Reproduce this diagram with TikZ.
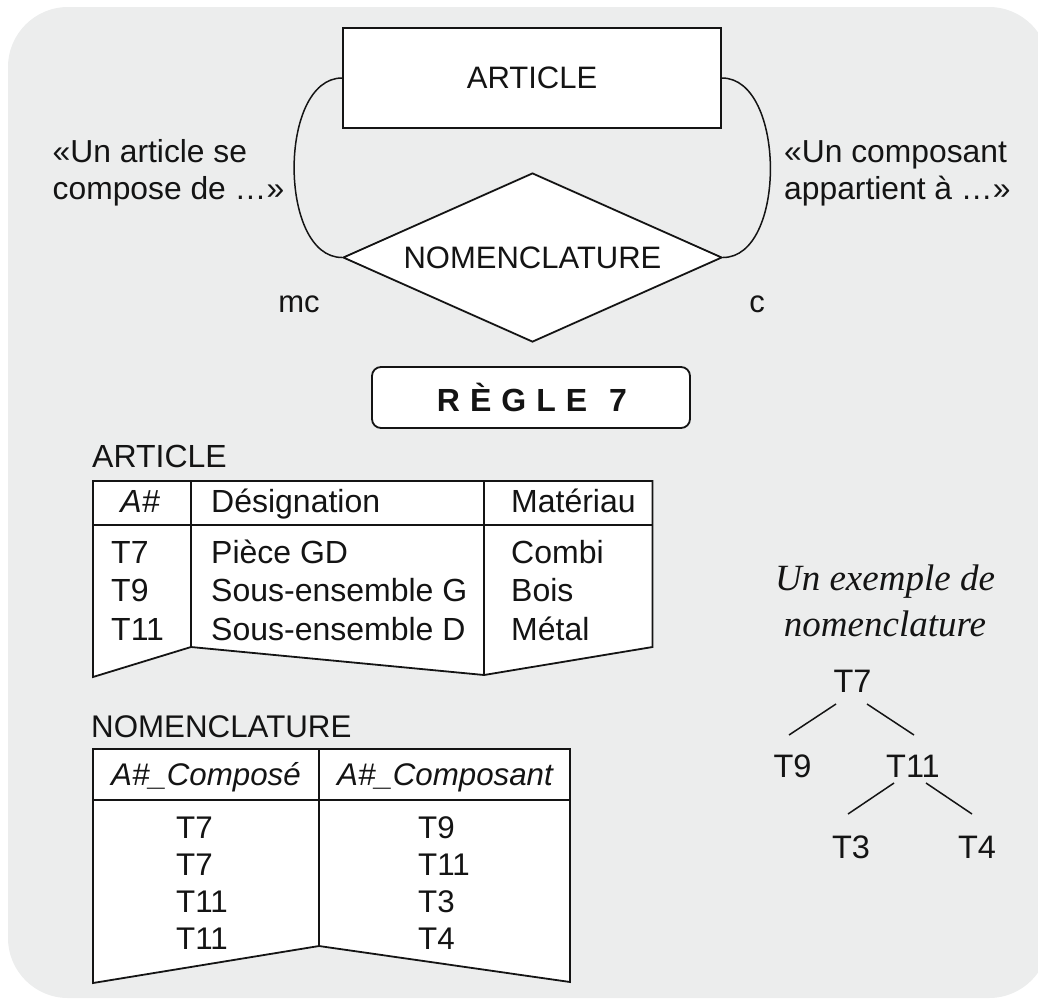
\documentclass[tikz,border=0pt]{standalone}
\usepackage{fontspec}
\setmainfont{Liberation Sans}
\newfontfamily\tnrfont{Liberation Serif}
\usetikzlibrary{shapes.geometric}
\definecolor{bg}{RGB}{236,237,237}
\definecolor{ink}{RGB}{20,20,20}
\tikzset{
  ftop/.style={inner sep=0pt, text=ink, font=\fontsize{31}{37}\selectfont},
  fside/.style={inner sep=0pt, text=ink, font=\fontsize{31.8}{37}\selectfont},
  fone/.style={inner sep=0pt, text=ink, font=\fontsize{32}{37}\selectfont},
  ftwo/.style={inner sep=0pt, text=ink, font=\fontsize{31.3}{37}\selectfont},
  ftree/.style={inner sep=0pt, text=ink, font=\fontsize{32.5}{38}\selectfont},
  border/.style={draw=ink, line width=1.8pt},
  thin/.style={draw=ink, line width=1.5pt},
}
\begin{document}
\begin{tikzpicture}[x=1pt,y=-1pt,line join=miter]
\useasboundingbox (0,0) rectangle (1038,999);
\begin{scope}
  \clip (0,0) rectangle (1038,999);
  \fill[bg, rounded corners=60pt] (8,7) rectangle (1049,998);
\end{scope}

% --- ER diagram ---
\node[ftop, border, fill=white, minimum width=378pt, minimum height=100pt] (art) at (532,78) {ARTICLE};
\node[ftop, diamond, border, fill=white, aspect=2.24, minimum width=379pt, minimum height=169pt] (nom) at (532.5,257.5) {NOMENCLATURE};
\draw[thin] (art.west) .. controls +(-64,0) and +(-64,0) .. (nom.west);
\draw[thin] (art.east) .. controls +(64,0) and +(64,0) .. (nom.east);

\node[fside, anchor=base west] (la1) at (52.5,162.5) {«Un article se};
\node[fside, anchor=base west] (la2) at (52.5,199.5) {compose de …»};
\node[fside, anchor=base west] (ra1) at (784,162.5) {«Un composant};
\node[fside, anchor=base west] (ra2) at (784,199.5) {appartient à …»};
\node[ftop, anchor=base] (mc) at (299,312) {mc};
\node[ftop, anchor=base] (cc) at (757,312) {c};

% --- rule box ---
\node[border, fill=white, rounded corners=9pt, minimum width=318pt, minimum height=61pt, inner sep=0pt] (regle) at (531,397.5) {};
\node[inner sep=0pt, text=ink, anchor=base, font=\bfseries\fontsize{32}{38}\selectfont] (regtxt) at (532,411)
  {R\hspace{10pt}È\hspace{10pt}G\hspace{10pt}L\hspace{10pt}E\hspace{22pt}7};

% --- ARTICLE table ---
\node[fone, anchor=base west] (lab1) at (92,467) {ARTICLE};
\draw[border, fill=white] (93,481) -- (652.5,481) -- (652.5,647) -- (484,675) -- (191,647) -- (93,677) -- cycle;
\draw[border] (93,525) -- (652.5,525);
\draw[border] (191,481) -- (191,647);
\draw[border] (484,481) -- (484,675);
\node[fone, anchor=base, font=\itshape\fontsize{32}{37}\selectfont] (h1) at (140,512.7) {A\#};
\node[fone, anchor=base west] (h2) at (211,512.7) {Désignation};
\node[fone, anchor=base west] (h3) at (511,512.7) {Matériau};
\node[fone, anchor=base west] (a11) at (111,563.3) {T7};
\node[fone, anchor=base west] (a12) at (211,563.3) {Pièce GD};
\node[fone, anchor=base west] (a13) at (511,563.3) {Combi};
\node[fone, anchor=base west] (a21) at (111,601.7) {T9};
\node[fone, anchor=base west] (a22) at (211,601.7) {Sous-ensemble G};
\node[fone, anchor=base west] (a23) at (511,601.7) {Bois};
\node[fone, anchor=base west] (a31) at (111,640) {T11};
\node[fone, anchor=base west] (a32) at (211,640) {Sous-ensemble D};
\node[fone, anchor=base west] (a33) at (511,640) {Métal};

% --- NOMENCLATURE table ---
\node[ftwo, anchor=base west] (lab2) at (91,737) {NOMENCLATURE};
\draw[border, fill=white] (93,749) -- (570,749) -- (570,982) -- (319,946) -- (93,983) -- cycle;
\draw[border] (93,800) -- (570,800);
\draw[border] (319,749) -- (319,946);
\node[ftwo, anchor=base, font=\itshape\fontsize{31.3}{37}\selectfont] (n1) at (206,785) {A\#\_Composé};
\node[ftwo, anchor=base, font=\itshape\fontsize{31.3}{37}\selectfont] (n2) at (445,785) {A\#\_Composant};
\node[ftwo, anchor=base west] (b11) at (176,838) {T7};
\node[ftwo, anchor=base west] (b12) at (418,838) {T9};
\node[ftwo, anchor=base west] (b21) at (176,875) {T7};
\node[ftwo, anchor=base west] (b22) at (418,875) {T11};
\node[ftwo, anchor=base west] (b31) at (176,912) {T11};
\node[ftwo, anchor=base west] (b32) at (418,912) {T3};
\node[ftwo, anchor=base west] (b41) at (176,949) {T11};
\node[ftwo, anchor=base west] (b42) at (418,949) {T4};

% --- example tree ---
\node[inner sep=0pt, text=ink, anchor=base, font=\tnrfont\itshape\fontsize{37}{43}\selectfont] (ex1) at (885,590) {Un exemple de};
\node[inner sep=0pt, text=ink, anchor=base, font=\tnrfont\itshape\fontsize{37}{43}\selectfont] (ex2) at (885,636.5) {nomenclature};
\node[ftree] (t7) at (852.5,681.7) {T7};
\node[ftree] (t9) at (792.5,766.7) {T9};
\node[ftree] (t11) at (913,766.7) {T11};
\node[ftree] (t3) at (851,847) {T3};
\node[ftree] (t4) at (977,847) {T4};
\draw[thin] ([shift={(-16.5,22.3)}]t7.center) -- ([shift={(-3.5,-31.7)}]t9.center);
\draw[thin] ([shift={(14.5,22.3)}]t7.center) -- ([shift={(1,-31.7)}]t11.center);
\draw[thin] ([shift={(-19,16.3)}]t11.center) -- ([shift={(-3,-33)}]t3.center);
\draw[thin] ([shift={(13,16.3)}]t11.center) -- ([shift={(-5,-33)}]t4.center);
\end{tikzpicture}
\end{document}
